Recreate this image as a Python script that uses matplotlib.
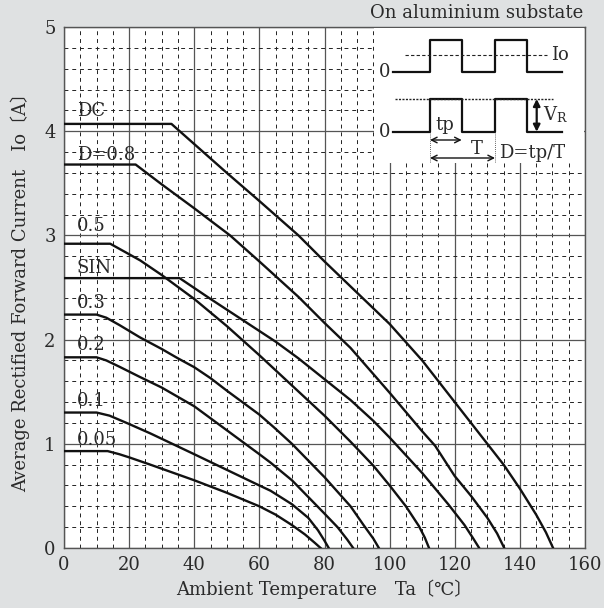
import matplotlib
matplotlib.use("Agg")
import matplotlib.pyplot as plt
from matplotlib.ticker import MultipleLocator

# derating curves (Ta in degC, Io in A)
dc_x = [0, 33, 50, 60, 72, 80, 90, 100, 110, 120, 130, 135, 140, 145, 148, 150.2]
dc_y = [4.07, 4.07, 3.60, 3.33, 3.00, 2.75, 2.45, 2.15, 1.80, 1.40, 1.00, 0.80, 0.57, 0.32, 0.15, 0.0]
d08_x = [0, 22, 30, 40, 51, 60, 72, 80, 88, 100, 110, 114, 120, 125, 130, 133, 135.2]
d08_y = [3.68, 3.68, 3.49, 3.26, 3.00, 2.75, 2.41, 2.16, 1.92, 1.49, 1.12, 0.98, 0.69, 0.50, 0.29, 0.14, 0.0]
d05_x = [0, 14.2, 23.4, 30, 40, 50, 60, 70, 80, 88, 95, 100, 105, 109, 110.8, 112.1]
d05_y = [2.92, 2.92, 2.76, 2.62, 2.39, 2.13, 1.85, 1.56, 1.27, 1.02, 0.79, 0.60, 0.40, 0.21, 0.10, 0.0]
sin_x = [0, 35.5, 45, 55, 65, 72, 80, 88, 95, 100, 110, 118, 123, 125.5, 127.5]
sin_y = [2.59, 2.59, 2.39, 2.185, 1.98, 1.82, 1.62, 1.42, 1.22, 1.06, 0.72, 0.42, 0.22, 0.10, 0.0]
d03_x = [0, 10, 13, 17, 23.4, 30, 35, 40, 45, 50, 60, 64.4, 70, 80, 88, 92, 95, 96.7]
d03_y = [2.24, 2.24, 2.21, 2.14, 2.02, 1.91, 1.82, 1.735, 1.63, 1.51, 1.28, 1.16, 1.00, 0.68, 0.40, 0.22, 0.09, 0.0]
d02_x = [0, 10, 13, 17, 23.4, 30, 40, 50, 60, 63.4, 70, 75, 80, 84, 87, 88.8]
d02_y = [1.83, 1.83, 1.80, 1.74, 1.64, 1.54, 1.36, 1.13, 0.90, 0.82, 0.65, 0.49, 0.33, 0.20, 0.08, 0.0]
d01_x = [0, 10, 14, 20, 26.5, 40, 50, 60, 63.4, 70, 75, 78, 80, 81.3]
d01_y = [1.30, 1.30, 1.27, 1.19, 1.10, 0.90, 0.75, 0.60, 0.55, 0.42, 0.29, 0.17, 0.07, 0.0]
d005_x = [0, 13.4, 17, 20, 26.5, 40, 50, 60, 65, 70, 74, 77, 78.8]
d005_y = [0.93, 0.93, 0.90, 0.87, 0.80, 0.65, 0.53, 0.40, 0.32, 0.22, 0.13, 0.05, 0.0]

curves = [(dc_x, dc_y), (d08_x, d08_y), (d05_x, d05_y), (sin_x, sin_y),
          (d03_x, d03_y), (d02_x, d02_y), (d01_x, d01_y), (d005_x, d005_y)]
labels = ["DC", "D=0.8", "0.5", "SIN", "0.3", "0.2", "0.1", "0.05"]
label_y = [4.15, 3.72, 3.04, 2.64, 2.30, 1.90, 1.36, 0.99]

# inset waveform sketch (pixel units of the inset box)
wave_x = [393, 430, 430, 461.7, 461.7, 495, 495, 526.7, 526.7, 561.7]
io_low, io_high = 71.7, 40
vr_low, vr_high = 131.7, 99

plt.rcParams["font.family"] = ["DejaVu Serif", "Noto Sans CJK JP"]
FS = 13
TXT = "#2a2a2a"

W, H = 604, 608
fig = plt.figure(figsize=(W / 100, H / 100), dpi=100, facecolor="#dfe1e2")
ax = fig.add_axes([64 / W, 1 - 548 / H, (585 - 64) / W, (548 - 27) / H])
ax.set_facecolor("white")

for xs, ys in curves:
    ax.plot(xs, ys, color="#111111", lw=1.7, solid_joinstyle="round", zorder=3)
for lab, ly in zip(labels, label_y):
    ax.text(3.9, ly, lab, fontsize=FS, va="baseline", ha="left", color=TXT, zorder=4)

ax.set_xlim(0, 160)
ax.set_ylim(0, 5)
ax.xaxis.set_major_locator(MultipleLocator(20))
ax.xaxis.set_minor_locator(MultipleLocator(5))
ax.yaxis.set_major_locator(MultipleLocator(1))
ax.yaxis.set_minor_locator(MultipleLocator(0.2))
ax.grid(which="major", color="#555555", lw=0.9, ls="-", zorder=1)
ax.grid(which="minor", color="#222222", lw=0.7, ls=(0, (4, 4)), zorder=1)
ax.set_axisbelow(True)
ax.tick_params(which="both", length=0, labelsize=FS, colors=TXT)
ax.tick_params(axis="x", pad=6)
ax.tick_params(axis="y", pad=6)
for s in ax.spines.values():
    s.set_color("#555555")
    s.set_linewidth(1.0)

ax.set_xlabel("Ambient Temperature\u3000Ta\u3014\u2103\u3015", fontsize=FS, color=TXT,
              labelpad=4)
ax.set_ylabel("Average Rectified Forward Current\u3000Io\u3014A\u3015", fontsize=FS,
              color=TXT, labelpad=10)

fig.text(583 / W, 1 - 13 / H, "On aluminium substate", fontsize=FS, ha="right",
         va="center", color=TXT)

# inset box with the waveform definitions
ins = fig.add_axes([374 / W, 1 - 163 / H, (584 - 374) / W, (163 - 28) / H])
ins.set_facecolor("white")
ins.set_xlim(374, 584)
ins.set_ylim(163, 28)
ins.set_xticks([])
ins.set_yticks([])
for s in ins.spines.values():
    s.set_visible(False)
top = [io_low, io_low, io_high, io_high, io_low, io_low, io_high, io_high, io_low, io_low]
bot = [vr_low, vr_low, vr_high, vr_high, vr_low, vr_low, vr_high, vr_high, vr_low, vr_low]
ins.plot(wave_x, top, color="#111111", lw=1.6)
ins.plot(wave_x, bot, color="#111111", lw=1.6)
ins.plot([405, 547], [55, 55], color="#222222", lw=0.8, ls=(0, (3, 2)))
ins.plot([395, 553], [vr_high, vr_high], color="#222222", lw=1.0, ls=(0, (1.5, 1)))
for vx in (430, 495):
    ins.plot([vx, vx], [vr_low, 162], color="#333333", lw=0.6, ls=(0, (1, 1.5)))
arr = dict(arrowstyle="<->", color="#111111", lw=1.0, shrinkA=0, shrinkB=0)
ins.annotate("", xy=(430, 140), xytext=(461.7, 140), arrowprops=arr)
ins.annotate("", xy=(430, 158), xytext=(495, 158), arrowprops=arr)
ins.annotate("", xy=(536.7, vr_high), xytext=(536.7, vr_low),
             arrowprops=dict(arrowstyle="<|-|>", color="#111111", lw=1.6,
                             shrinkA=0, shrinkB=0, mutation_scale=10))
ins.text(385, io_low, "0", fontsize=FS, ha="center", va="center", color=TXT)
ins.text(385, vr_low, "0", fontsize=FS, ha="center", va="center", color=TXT)
ins.text(551, 55, "Io", fontsize=FS, ha="left", va="center", color=TXT)
ins.text(543, 115, "V", fontsize=FS, ha="left", va="center", color=TXT)
ins.text(556, 118, "R", fontsize=9, ha="left", va="center", color=TXT)
ins.text(445, 125, "tp", fontsize=FS, ha="center", va="center", color=TXT)
ins.text(477, 149, "T", fontsize=FS, ha="center", va="center", color=TXT)
ins.text(499, 153, "D=tp/T", fontsize=FS, ha="left", va="center", color=TXT)

fig.savefig("out.png", dpi=100, facecolor=fig.get_facecolor())
